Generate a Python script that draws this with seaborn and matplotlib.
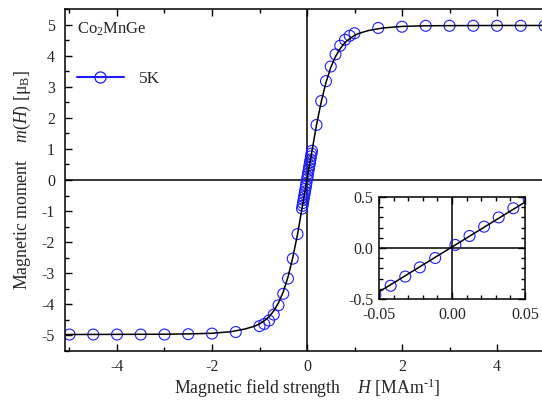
import numpy as np
import pandas as pd
import matplotlib
matplotlib.use("Agg")
import matplotlib.pyplot as plt
from matplotlib.lines import Line2D
from matplotlib.ticker import MultipleLocator, FormatStrFormatter
import seaborn as sns

# measured points, 5 K loop of Co2MnGe
field_H = [-5.0, -4.5, -4.0, -3.5, -3.0, -2.5, -2.0, -1.5, -1.0, -0.9, -0.8, -0.7, -0.6,
           -0.5, -0.4, -0.3, -0.2, -0.105, -0.094, -0.084, -0.073, -0.063, -0.0525,
           -0.042, -0.032, -0.022, -0.0115, 0.0023, 0.012, 0.022, 0.032, 0.042,
           0.0525, 0.063, 0.073, 0.084, 0.094, 0.105, 0.2, 0.3, 0.4, 0.5, 0.6, 0.7,
           0.8, 0.9, 1.0, 1.5, 2.0, 2.5, 3.0, 3.5, 4.0, 4.5, 5.0]
moment_m = [-4.97, -4.97, -4.97, -4.97, -4.97, -4.96, -4.94, -4.89, -4.70, -4.63, -4.52,
            -4.33, -4.03, -3.66, -3.17, -2.53, -1.74, -0.92, -0.83, -0.74, -0.64, -0.55,
            -0.46, -0.37, -0.28, -0.19, -0.098, 0.03, 0.118, 0.209, 0.30, 0.39,
            0.48, 0.57, 0.66, 0.76, 0.85, 0.94, 1.77, 2.54, 3.18, 3.65, 4.04, 4.32,
            4.51, 4.64, 4.72, 4.89, 4.93, 4.96, 4.96, 4.96, 4.96, 4.96, 4.96]

# fitted curve (black line)
fit_H = [-5.1, -4.0, -3.0, -2.5, -2.0, -1.6, -1.3, -1.1, -1.0, -0.9, -0.8, -0.7, -0.6,
         -0.5, -0.4, -0.3, -0.2, -0.1, 0.0, 0.1, 0.2, 0.3, 0.4, 0.5, 0.6, 0.7, 0.8,
         0.9, 1.0, 1.1, 1.3, 1.6, 2.0, 2.5, 3.0, 4.0, 5.1]
fit_m = [-4.97, -4.965, -4.96, -4.95, -4.93, -4.88, -4.79, -4.70, -4.63, -4.53, -4.40,
         -4.21, -3.95, -3.60, -3.12, -2.50, -1.75, -0.87, 0.01, 0.89, 1.77, 2.52,
         3.14, 3.62, 3.97, 4.23, 4.42, 4.55, 4.65, 4.72, 4.81, 4.89, 4.94, 4.96,
         4.965, 4.97, 4.97]

data = pd.DataFrame({"H": field_H, "m": moment_m})
fit = pd.DataFrame({"H": fit_H, "m": fit_m})

sns.set_style("ticks")
plt.rcParams["font.family"] = ["Liberation Serif", "DejaVu Serif"]
plt.rcParams["mathtext.fontset"] = "custom"
plt.rcParams["mathtext.rm"] = "Liberation Serif"
plt.rcParams["mathtext.it"] = "Liberation Serif:italic"
plt.rcParams["mathtext.bf"] = "Liberation Serif:bold"
plt.rcParams["axes.unicode_minus"] = False

fig = plt.figure(figsize=(5.42, 4.01), dpi=100)
ax = fig.add_axes([64.75 / 542, 1 - 351 / 401, 484.5 / 542, 342 / 401])

blue = "#1c1cff"


def draw(a):
    a.axhline(0, color="black", lw=1.1, zorder=1)
    a.axvline(0, color="black", lw=1.1, zorder=1)
    sns.scatterplot(data=data, x="H", y="m", ax=a, marker="o", s=62,
                    facecolor="none", edgecolor=blue, linewidth=0.8, zorder=2)
    sns.lineplot(data=fit, x="H", y="m", ax=a, color="black", lw=1.1,
                 sort=False, zorder=3)


draw(ax)
ax.set_xlim(-5.1, 5.1)
ax.set_ylim(-5.5, 5.5)
ax.xaxis.set_major_locator(MultipleLocator(2))
ax.xaxis.set_minor_locator(MultipleLocator(1))
ax.yaxis.set_major_locator(MultipleLocator(1))
ax.yaxis.set_minor_locator(MultipleLocator(0.5))
ax.tick_params(which="both", direction="in", top=True, right=True, labelsize=11.5,
               width=1, color="black")
ax.tick_params(which="major", length=5)
ax.tick_params(which="minor", length=3)
ax.tick_params(axis="y", pad=7)
ax.tick_params(axis="x", pad=6)
for s in ax.spines.values():
    s.set_color("black")
    s.set_linewidth(1.1)

ax.set_xlabel("Magnetic field strength    $H$ [MAm$^{\\mathrm{\u2010}1}$]",
              fontsize=12.8, labelpad=1)
ax.set_ylabel(r"Magnetic moment    $m(H)$ [μ$_\mathrm{B}$]", fontsize=12.8, labelpad=6)

ax.text(0.026, 0.94, r"Co$_2$MnGe", transform=ax.transAxes, fontsize=12,
        va="center", ha="left")
handle = Line2D([], [], color=blue, lw=1.5, marker="o", markersize=8,
                markerfacecolor="none", markeredgecolor=blue, markeredgewidth=0.9)
ax.legend([handle], ["5K"], loc="center left", bbox_to_anchor=(0.025, 0.795),
          frameon=False, fontsize=12.5, handlelength=2.7, handletextpad=0.9,
          borderpad=0, borderaxespad=0)

# inset: zoom around the origin
ins = fig.add_axes([379 / 542, 1 - 299 / 401, 146 / 542, 102 / 401])
ins.set_facecolor("white")
draw(ins)
ins.set_xlim(-0.05, 0.05)
ins.set_ylim(-0.5, 0.5)
ins.xaxis.set_major_locator(MultipleLocator(0.05))
ins.xaxis.set_minor_locator(MultipleLocator(0.01))
ins.yaxis.set_major_locator(MultipleLocator(0.5))
ins.yaxis.set_minor_locator(MultipleLocator(0.1))
ins.xaxis.set_major_formatter(FormatStrFormatter("%.2f"))
ins.yaxis.set_major_formatter(FormatStrFormatter("%.1f"))
ins.tick_params(which="both", direction="in", top=True, right=True, labelsize=11.5,
                width=1, color="black", pad=4)
ins.tick_params(axis="x", pad=6)
ins.tick_params(which="major", length=5)
ins.tick_params(which="minor", length=3)
ins.set_xlabel("")
ins.set_ylabel("")
for s in ins.spines.values():
    s.set_color("black")
    s.set_linewidth(1.1)

fig.savefig("out.png", dpi=100)
